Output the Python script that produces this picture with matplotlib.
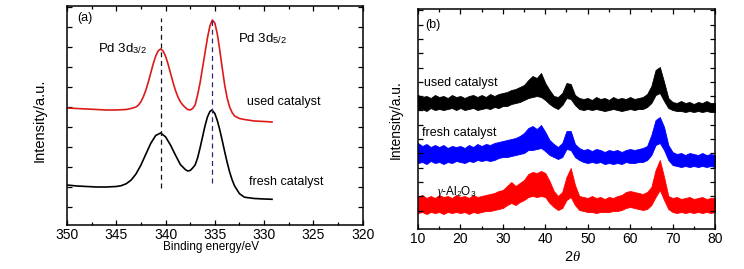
import numpy as np
import matplotlib
matplotlib.use('Agg')
import matplotlib.pyplot as plt
from matplotlib.ticker import MultipleLocator, FixedLocator

plt.rcParams['font.family'] = ['Liberation Sans', 'DejaVu Sans']
plt.rcParams['mathtext.fontset'] = 'custom'
plt.rcParams['mathtext.rm'] = 'Liberation Sans'
plt.rcParams['mathtext.it'] = 'Liberation Serif:italic'

# ---- (a) XPS Pd 3d, binding energy (eV) / intensity (a.u.)
xps_used_be = [350, 349, 348, 347, 346, 345, 344, 343.5, 343, 342.75, 342.5, 342.25, 342,
               341.75, 341.5, 341.25, 341, 340.75, 340.5, 340.25, 340, 339.75, 339.5, 339.25,
               339, 338.75, 338.5, 338.25, 338, 337.75, 337.5, 337.25, 337, 336.75, 336.5,
               336.25, 336, 335.75, 335.5, 335.25, 335, 334.75, 334.5, 334.25, 334, 333.75,
               333.5, 333.25, 333, 332.5, 332, 331, 330, 329.2]
xps_used_int = [117, 116.5, 116, 115.5, 115, 115, 115.5, 116.5, 118, 119.9, 123.3, 128.2, 134.8,
                142.9, 152, 161.1, 168.8, 174.1, 176, 174.1, 168.8, 161.1, 152, 142.9,
                134.8, 128.2, 123.3, 120, 117.5, 115.5, 115, 116.5, 120, 130, 142,
                157, 172, 187, 199, 205, 202, 191, 175, 157, 140, 127,
                118, 112.5, 109, 106.5, 105.5, 104, 103.5, 103]

xps_fresh_be = [350, 349, 348, 347, 346, 345, 344.5, 344, 343.5, 343, 342.5, 342, 341.5, 341,
                340.5, 340, 339.5, 339, 338.5, 338, 337.75, 337.5, 337.25, 337, 336.75, 336.5,
                336.25, 336, 335.75, 335.5, 335.3, 335, 334.75, 334.5, 334.25, 334, 333.75,
                333.5, 333.25, 333, 332.5, 332, 331, 330, 329.2]
xps_fresh_int = [40, 39, 38.5, 38, 38, 38.5, 39.3, 41.2, 44.8, 51, 59.9, 70.8, 81.6, 89.5,
                 92, 88.2, 80, 70, 60.5, 55.5, 54, 54.5, 57, 60, 67, 77,
                 88, 99, 108, 113.5, 115, 111.5, 104.5, 95.2, 84.5, 73.3, 62.6,
                 53.1, 45.3, 39.1, 31.3, 27.8, 26.5, 26, 25.7]

peak_be = [340.5, 335.3]
peak_labels = ['Pd 3d$_{3/2}$', 'Pd 3d$_{5/2}$']

# ---- (b) XRD, 2theta (deg) / noise band low-high (a.u.)
two_theta = list(range(10, 81))

used_hi = [134, 132, 133, 131, 134, 132, 133, 131, 134, 132, 133, 131, 133, 134, 132, 134, 132, 135,
           133, 135, 136, 137, 139, 140, 142, 144, 149, 153, 151, 156, 146, 139, 133, 132, 136, 146,
           145, 134, 131, 130, 131, 129, 132, 130, 131, 129, 132, 130, 131, 130, 132, 130, 131, 132,
           135, 143, 159, 162, 147, 131, 127, 126, 128, 126, 127, 125, 127, 126, 128, 126, 126]
used_lo = [119, 120, 118, 121, 119, 120, 119, 120, 121, 119, 121, 119, 120, 121, 119, 120, 121, 120,
           122, 121, 123, 123, 125, 126, 127, 129, 131, 132, 133, 132, 129, 125, 122, 120, 124, 131,
           130, 124, 120, 119, 120, 119, 120, 119, 118, 119, 120, 119, 118, 119, 120, 119, 120, 120,
           122, 126, 134, 136, 128, 121, 119, 118, 118, 117, 118, 117, 118, 117, 118, 117, 117]

fresh_hi = [86, 83, 85, 82, 84, 82, 84, 81, 83, 82, 83, 81, 84, 82, 85, 83, 85, 84,
            86, 87, 88, 89, 90, 91, 93, 96, 101, 103, 100, 104, 97, 89, 85, 82, 86, 98,
            98, 85, 81, 79, 80, 78, 80, 79, 77, 79, 78, 79, 77, 79, 80, 79, 80, 81,
            83, 94, 109, 112, 102, 84, 77, 75, 76, 74, 76, 75, 74, 76, 74, 75, 74]
fresh_lo = [66, 67, 65, 68, 66, 67, 65, 67, 66, 68, 67, 66, 68, 67, 69, 68, 69, 68,
            69, 71, 72, 72, 73, 74, 75, 76, 79, 79, 80, 81, 78, 74, 72, 70, 72, 80,
            79, 72, 69, 67, 66, 67, 66, 67, 65, 66, 65, 66, 65, 67, 66, 66, 67, 67,
            69, 74, 84, 86, 79, 69, 64, 63, 62, 63, 62, 63, 62, 63, 62, 63, 62]

al_hi = [32, 34, 31, 33, 31, 34, 32, 33, 31, 34, 32, 33, 31, 34, 32, 33, 34, 35,
         36, 38, 39, 43, 47, 43, 46, 49, 55, 57, 56, 58, 56, 48, 38, 33, 37, 52,
         61, 44, 33, 32, 31, 33, 31, 32, 30, 32, 31, 33, 34, 37, 38, 37, 36, 35,
         37, 42, 59, 69, 52, 33, 31, 32, 30, 31, 32, 30, 31, 32, 30, 31, 31]
al_lo = [16, 17, 15, 17, 16, 17, 15, 17, 16, 17, 16, 17, 15, 17, 16, 17, 18, 18,
         19, 20, 21, 24, 26, 24, 27, 29, 32, 33, 32, 33, 32, 26, 22, 19, 21, 29,
         32, 24, 19, 18, 17, 17, 16, 17, 17, 17, 18, 18, 19, 21, 22, 21, 20, 19,
         20, 24, 32, 39, 29, 20, 17, 16, 17, 16, 17, 16, 17, 16, 17, 16, 17]


def style_axes(ax):
    for sp in ax.spines.values():
        sp.set_linewidth(1.1)
    ax.tick_params(which='both', direction='in', top=True, right=True,
                   labelsize=10, width=0.9, pad=2)
    ax.tick_params(which='major', length=3.5)
    ax.tick_params(which='minor', length=2.5)
    ax.tick_params(axis='y', labelleft=False)


fig = plt.figure(figsize=(7.44, 2.69), dpi=100)

# ---------------- panel (a)
ax1 = fig.add_axes([0.090, 0.1636, 0.3975, 0.8141])
ax1.plot(xps_used_be, xps_used_int, color='#dd1a1a', lw=1.2)
ax1.plot(xps_fresh_be, xps_fresh_int, color='black', lw=1.2)
ax1.plot([peak_be[0], peak_be[0]], [37, 207], ls='--', color='#111122', lw=0.9, dashes=(4, 3))
ax1.plot([peak_be[1], peak_be[1]], [42, 207], ls='--', color='#2a2a70', lw=0.9, dashes=(4, 3))
ax1.set_xlim(350, 320)
ax1.set_ylim(0, 219)
ax1.xaxis.set_major_locator(MultipleLocator(5))
ax1.xaxis.set_minor_locator(MultipleLocator(2.5))
ax1.yaxis.set_major_locator(FixedLocator(np.arange(18.3, 219, 20)))
style_axes(ax1)
ax1.set_xlabel('Binding energy/eV', fontsize=8.5, va='center')
ax1.xaxis.set_label_coords(0.487, -0.10)
ax1.set_ylabel('Intensity/a.u.', fontsize=10.5, va='center')
ax1.yaxis.set_label_coords(-0.091, 0.48)

ax1.text(349.0, 207, '(a)', fontsize=9, ha='left', va='center')
ax1.text(346.85, 173, peak_labels[0], fontsize=9.5, ha='left', va='baseline')
ax1.text(332.65, 183, peak_labels[1], fontsize=9.5, ha='left', va='baseline')
ax1.text(331.74, 123, 'used catalyst', fontsize=9, ha='left', va='center')
ax1.text(331.54, 43, 'fresh catalyst', fontsize=9, ha='left', va='center')

# ---------------- panel (b)
ax2 = fig.add_axes([0.5618, 0.1487, 0.3992, 0.8178])
ax2.fill_between(two_theta, used_lo, used_hi, color='black', lw=0.6)
ax2.fill_between(two_theta, fresh_lo, fresh_hi, color='#0000ff', lw=0.6)
ax2.fill_between(two_theta, al_lo, al_hi, color='#ff0000', lw=0.6)
ax2.set_xlim(10, 80)
ax2.set_ylim(0, 220)
ax2.xaxis.set_major_locator(MultipleLocator(10))
ax2.xaxis.set_minor_locator(MultipleLocator(5))
ax2.yaxis.set_major_locator(FixedLocator(np.arange(18.5, 220, 14.3)))
style_axes(ax2)
ax2.set_xlabel('2$\\theta$', fontsize=10.5, va='center')
ax2.xaxis.set_label_coords(0.52, -0.127)
ax2.set_ylabel('Intensity/a.u.', fontsize=10, va='center')
ax2.yaxis.set_label_coords(-0.074, 0.495)

ax2.text(11.65, 204, '(b)', fontsize=9, ha='left', va='center')
ax2.text(11.4, 146, 'used catalyst', fontsize=9, ha='left', va='center')
ax2.text(10.95, 96, 'fresh catalyst', fontsize=9, ha='left', va='center')
ax2.text(14.5, 37, '$\\gamma$-Al$_2$O$_3$', fontsize=8.5, ha='left', va='center')

fig.savefig('out.png', dpi=100)
